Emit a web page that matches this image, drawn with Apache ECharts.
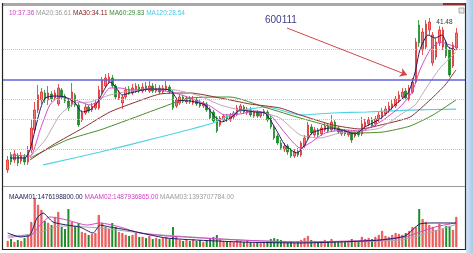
<!DOCTYPE html>
<html><head><meta charset="utf-8">
<script src="https://cdn.jsdelivr.net/npm/echarts/dist/echarts.min.js"></script>
<style>html,body{margin:0;padding:0;background:#fff;}#c{width:473px;height:253px;}</style>
</head><body><div id="c"></div>
<script>
// ---- daily prices ----
const opens=[19.89,22.02,21.31,21.87,21.16,21.73,21.02,22.73,25.57,28.41,
29.83,30.82,29.83,30.68,30.11,29.26,31.25,30.39,29.68,29.12,
30.54,29.12,26.99,27.98,28.83,28.41,28.69,28.69,30.96,31.81,
32.38,32.95,31.81,30.11,29.40,30.25,31.39,30.82,31.10,31.67,
31.10,31.81,31.10,31.81,31.10,31.53,30.96,31.39,31.67,30.96,
28.97,29.40,30.25,29.54,30.11,29.40,29.83,29.40,28.97,29.26,
28.55,28.12,27.27,26.28,26.99,27.55,26.99,27.41,27.84,28.26,
28.83,27.98,28.41,27.55,28.12,27.55,27.84,28.12,27.27,25.99,
24.71,23.72,22.73,23.29,22.73,21.87,22.58,22.02,23.29,24.43,
25.99,24.86,25.57,25.00,25.57,26.13,25.57,26.70,25.85,25.00,
25.42,24.86,25.28,24.71,25.28,25.00,26.13,26.42,26.99,26.42,
26.99,27.41,27.84,28.26,28.69,28.97,29.68,30.25,31.10,29.97,
30.96,32.38,40.48,36.93,37.35,39.77,35.08,35.93,37.92,37.35,
38.06,36.93,34.66,37.21];
const closes=[21.31,21.02,22.16,20.88,21.87,21.02,22.73,25.85,28.41,30.54,
30.96,29.83,30.82,29.97,30.82,31.53,30.25,29.68,28.69,30.96,
29.12,26.28,27.98,28.83,28.26,28.97,29.40,31.25,32.67,32.95,
33.09,31.81,30.25,30.96,30.25,31.25,30.82,31.53,31.81,31.10,
31.67,31.25,31.81,31.10,31.53,30.96,31.53,31.81,30.96,28.69,
29.83,30.25,29.68,30.11,29.54,29.97,29.26,28.97,29.40,28.41,
27.27,26.84,25.42,27.27,27.55,26.99,27.55,27.98,28.69,28.97,
28.12,28.55,27.70,28.12,27.55,27.98,28.26,26.99,25.99,24.43,
23.72,23.01,23.29,22.44,21.87,22.44,22.02,23.72,24.43,26.28,
25.14,25.57,24.86,25.85,26.13,25.42,26.70,25.71,25.28,25.42,
25.00,25.28,24.15,25.28,24.86,26.42,26.70,26.99,26.13,27.13,
27.70,28.12,28.55,28.97,29.26,29.97,30.54,30.96,30.11,31.53,
32.38,38.06,37.92,39.48,40.62,40.90,39.06,38.06,39.77,39.77,
36.08,33.38,37.64,39.34];
const lows=[19.46,20.60,20.88,20.45,20.74,20.60,20.60,22.30,25.14,27.98,
29.26,29.40,29.12,29.54,29.83,28.97,29.83,29.40,28.26,28.83,
28.83,25.99,26.70,27.70,27.98,28.12,28.41,28.41,30.68,31.53,
32.10,31.53,29.97,29.83,28.55,29.97,30.54,30.54,30.82,30.82,
30.82,30.96,30.82,30.82,30.82,30.68,30.68,31.10,30.68,28.41,
28.69,29.12,29.40,29.26,29.26,29.12,28.97,28.69,28.69,28.12,
26.99,26.56,25.14,25.99,26.70,26.70,26.70,27.13,27.55,27.98,
27.84,27.70,27.41,27.27,27.27,27.27,27.55,26.70,25.71,24.15,
23.44,22.73,22.44,22.02,21.59,21.59,21.73,21.73,23.01,24.15,
24.86,24.57,24.57,24.71,25.28,25.14,25.28,25.42,25.00,24.71,
24.71,24.57,23.72,24.43,24.57,24.71,25.85,26.13,25.85,26.13,
26.70,27.13,27.55,27.98,28.41,28.69,29.40,29.97,29.83,29.68,
30.68,32.10,37.35,36.22,36.93,39.06,34.66,35.51,37.50,36.93,
35.79,33.09,34.37,36.93];
const highs=[21.87,22.44,22.73,22.30,22.44,22.16,23.29,26.99,29.54,31.96,
31.53,31.25,31.81,31.10,31.25,32.10,31.53,30.68,29.97,32.24,
30.82,29.40,28.41,29.26,29.12,29.40,29.83,31.81,33.09,33.52,
33.66,33.38,32.10,31.25,30.54,31.67,31.81,32.10,32.24,32.10,
32.24,32.38,32.52,32.24,32.10,31.96,31.96,32.52,31.96,31.25,
30.11,30.54,30.54,30.39,30.39,30.39,30.11,29.83,29.68,29.54,
28.83,28.41,27.55,27.55,27.84,27.84,27.98,28.26,29.12,29.26,
29.12,28.83,28.83,28.41,28.41,28.26,28.55,28.41,27.55,26.28,
25.00,24.15,23.72,23.58,23.01,22.87,23.01,24.00,24.86,26.70,
26.42,25.99,25.85,26.28,26.70,26.42,27.70,26.99,26.13,25.71,
25.71,25.57,25.57,25.57,25.57,27.41,27.13,27.41,27.41,27.55,
28.12,28.69,28.97,29.54,29.83,30.39,31.10,31.53,31.53,31.96,
32.95,38.63,41.19,40.05,41.19,41.48,39.48,38.63,40.34,40.20,
38.35,37.35,38.06,40.05];
// volume, 1e8 shares
const volumes=[3.7,4.9,3.1,4.3,3.7,5.5,6.8,15.4,30.2,25.9,
22.8,16.0,14.8,13.5,18.5,21.5,12.3,11.1,23.4,15.4,
12.3,14.8,9.2,8.6,7.4,8.0,8.6,19.7,14.8,12.3,
11.1,14.8,12.3,9.2,8.6,7.4,6.8,7.4,8.6,6.2,
6.2,5.5,6.8,4.9,5.5,4.9,5.5,6.2,4.9,12.3,
6.2,4.3,3.7,4.3,3.7,4.9,3.7,4.3,3.1,4.3,
5.5,6.2,7.4,4.9,3.7,3.1,3.7,3.1,4.3,3.7,
3.1,3.7,3.1,2.5,3.1,2.5,3.1,3.7,4.9,5.5,
4.9,4.3,3.7,3.1,3.7,3.1,3.7,4.3,5.5,6.8,
4.3,3.7,3.1,3.7,4.3,3.1,4.9,3.7,3.1,3.7,
3.1,3.7,4.9,3.7,3.1,6.2,4.9,5.5,4.9,6.2,
7.4,9.9,6.8,6.2,7.4,8.6,8.0,7.4,8.6,9.9,
12.3,12.3,23.4,17.2,15.4,13.5,12.3,10.5,14.2,11.1,
12.9,12.9,10.5,18.5];
// moving average lines: [day index, value]
const ma5=[[0.7,21.59],[5.1,21.59],[6.6,22.73],[8.1,25.57],[9.6,28.41],[11.1,30.11],[14,30.39],[17,30.25],[20,29.4],[22,28.12],[24.4,28.41],[26.5,29.4],[28.9,31.53],[30.3,32.38],[31.8,31.81],[33.9,30.54],[36.3,30.82],[42.2,31.39],[48.1,31.25],[50.5,29.83],[54.1,29.68],[58.5,29.12],[61.5,27.41],[63.5,26.7],[66.5,27.41],[68.9,28.41],[73.3,28.12],[76.3,27.98],[79.3,25.85],[82.2,23.44],[85.8,22.3],[88.1,23.44],[90.2,25.14],[95.6,25.85],[100,25.42],[103,25.0],[105.9,25.99],[110.4,27.13],[114.8,29.12],[118.7,30.82],[120.8,33.8],[122.2,36.93],[124.6,39.06],[126.7,38.63],[128.8,39.06],[130.6,37.35],[132.9,36.93]];
const ma10=[[0.7,22.02],[6.6,21.87],[9.6,25.57],[12.5,29.12],[15.5,30.25],[20,29.83],[24.4,29.12],[27.4,29.83],[30.3,31.53],[33.3,31.53],[36.3,31.25],[42.2,31.39],[49.6,30.82],[54.1,30.11],[60,28.97],[64.4,27.7],[68.9,27.84],[73.3,28.26],[77.8,27.7],[82.2,25.14],[86.7,23.01],[89.6,23.72],[94.1,25.14],[100,25.57],[104.5,25.42],[110.4,26.7],[116.3,28.83],[119.9,30.96],[122.2,34.09],[125.2,36.93],[128.2,38.06],[131.1,37.64],[132.9,37.36]];
const ma20=[[6.6,21.73],[11.1,24.15],[15.5,27.7],[20,29.4],[24.4,29.54],[30.3,30.54],[36.3,31.1],[42.2,31.39],[49.6,31.25],[57,30.39],[63,29.12],[68.9,28.41],[74.8,28.12],[80.7,27.27],[86.7,24.86],[92.6,24.43],[98.5,25.14],[104.5,25.42],[110.4,25.85],[116.3,27.7],[120.8,29.12],[123.7,31.25],[128.2,34.37],[132.9,36.61]];
const ma30=[[6.6,21.31],[13.4,23.44],[22.3,25.85],[30.3,28.12],[37.2,29.4],[45.2,30.68],[54.1,30.82],[63,30.11],[71.8,29.26],[80.7,28.69],[86.7,27.7],[96.4,26.28],[104.5,25.71],[111.9,26.42],[119.3,27.41],[125.2,29.83],[129.7,31.96],[132.9,34.11]];
const ma60=[[6.6,21.59],[17.6,24.15],[27.4,25.57],[37.2,27.27],[45.2,28.69],[54.1,30.11],[65.9,30.25],[76.9,28.69],[86.7,27.27],[96.4,25.99],[103.6,25.14],[111.3,25.28],[119.3,26.13],[126.1,27.7],[132.9,29.83]];
const ma120=[[10.5,20.6],[27.4,22.44],[45.2,24.57],[60.9,26.56],[68.9,28.26],[76.9,28.83],[86.7,27.7],[96.4,27.98],[106.5,28.12],[121.4,28.41],[132.9,28.54]];
const vma1=[[0,8.6],[3.7,6.2],[6.6,7.4],[8.7,17.9],[10.5,20.9],[13.4,15.4],[17.6,13.5],[21.4,12.3],[25.3,8.6],[27.4,13.5],[30.3,12.3],[35.4,10.5],[47.2,5.5],[68.9,3.1],[86.7,2.5],[98.5,3.1],[110.4,4.3],[117.8,6.8],[122.2,14.2],[126.7,14.8],[132.9,14.76]];
const vma2=[[0,6.8],[6.6,6.8],[9.6,13.5],[12.5,18.5],[17.6,16.6],[23.5,13.5],[27.4,14.8],[33.3,12.3],[39.2,8.6],[47.2,6.8],[68.9,4.3],[86.7,3.1],[110.4,4.3],[117.8,6.2],[122.2,9.2],[126.7,12.3],[132.9,14.88]];
const vma3=[[0,5.5],[9.6,9.2],[15.5,12.9],[27.4,11.7],[42.2,8.0],[68.9,4.3],[86.7,3.1],[116.3,4.3],[132.9,13.94]];
const gridLevels=[37.07,29.97,27.13,22.87];
const resistance=32.67;
const arrowFrom=[82.8,40.05], arrowTo=[118.4,33.38];
const peak=[125,41.48];
const header=['10:37.36','MA20:36.61','MA30:34.11','MA60:29.83','MA120:28.54'];
const volHeader=['MAAM01:1476198800.00','MAAM02:1487936865.00','MAAM03:1393707784.00'];
const stockCode='600111';

const N=closes.length;
const days=closes.map((_,i)=>String(i+1));
const candleData=closes.map((c,i)=>[opens[i],c,lows[i],highs[i]]);
const UP='#f07a7a',UPB='#e02828',DN='#1e8c28';
const volData=volumes.map((v,i)=>({value:v,itemStyle:closes[i]>=opens[i]?{color:UP,borderColor:UPB,borderWidth:0.6}:{color:DN}}));
const pxPerDay=452/N;
const vxMin=-0.5-3/pxPerDay, vxMax=N-0.5+7/pxPerDay;
const PMIN=18.32,PMAX=42.89,VMAX=31.4;
function line(name,data,color,xi,yi,w){return {name,type:'line',data,xAxisIndex:xi,yAxisIndex:yi,showSymbol:false,symbol:'none',smooth:0.2,z:4,lineStyle:{color,width:w||1},silent:true};}
const R=(c)=>({color:c,fontSize:6.5,fontWeight:'normal',fontFamily:'Liberation Sans'});
const chart=echarts.init(document.getElementById('c'));
chart.setOption({
 animation:false,backgroundColor:'#ffffff',
 title:[
  {left:4,top:5,text:`{a|${header[0]}} {b|${header[1]}} {c|${header[2]}} {d|${header[3]}} {e|${header[4]}}`,
   textStyle:{fontSize:6.5,fontWeight:'normal',fontFamily:'Liberation Sans',rich:{a:R('#d040c8'),b:R('#9a9a9a'),c:R('#8a2020'),d:R('#3c8c3c'),e:R('#48c8e0')}}},
  {left:4,top:189,text:`{a|${volHeader[0]}} {b|${volHeader[1]}} {c|${volHeader[2]}}`,
   textStyle:{fontSize:6.5,fontWeight:'normal',fontFamily:'Liberation Sans',rich:{a:R('#20205a'),b:R('#d040c8'),c:R('#9a9a9a')}}}
 ],
 grid:[{left:6,top:8,width:452,height:173},{left:3,top:8,width:462,height:173},
       {left:6,top:196,width:452,height:51},{left:3,top:196,width:462,height:51}],
 xAxis:[
  {type:'category',gridIndex:0,data:days,show:false},
  {type:'value',gridIndex:1,min:vxMin,max:vxMax,show:false},
  {type:'category',gridIndex:2,data:days,show:false},
  {type:'value',gridIndex:3,min:vxMin,max:vxMax,show:false}
 ],
 yAxis:[
  {type:'value',gridIndex:0,min:PMIN,max:PMAX,show:false},
  {type:'value',gridIndex:1,min:PMIN,max:PMAX,show:false},
  {type:'value',gridIndex:2,min:0,max:VMAX,show:false},
  {type:'value',gridIndex:3,min:0,max:VMAX,show:false}
 ],
 series:[
  {type:'line',xAxisIndex:1,yAxisIndex:1,data:[],z:1,silent:true,
   markLine:{silent:true,symbol:'none',label:{show:false},animation:false,
     data:gridLevels.map(v=>({yAxis:v,lineStyle:{color:'#c4c4c4',type:'dotted',width:1}}))}},
  {type:'candlestick',xAxisIndex:0,yAxisIndex:0,data:candleData,barWidth:2,z:2,silent:true,
   itemStyle:{color:UP,color0:DN,borderColor:UPB,borderColor0:DN,borderWidth:0.8}},
  line('MA120',ma120,'#4cd2e6',1,1,1.2),
  line('MA60',ma60,'#4a8a2a',1,1),
  line('MA30',ma30,'#8c3030',1,1),
  line('MA20',ma20,'#c0a8b8',1,1),
  line('MA10',ma10,'#d848c8',1,1),
  line('MA5',ma5,'#1c1c66',1,1),
  {type:'line',xAxisIndex:1,yAxisIndex:1,data:[],z:5,silent:true,
   markLine:{silent:true,label:{show:false},animation:false,symbol:['none','none'],
     data:[{yAxis:resistance,lineStyle:{color:'#6262dc',type:'solid',width:1.5}},
           [{coord:arrowFrom,symbol:'none'},{coord:arrowTo,symbol:'arrow',symbolSize:7,lineStyle:{color:'#d04848',type:'solid',width:1}}]]},
   markPoint:{silent:true,symbol:'circle',symbolSize:0,
     data:[{coord:peak,label:{show:true,position:'right',offset:[2,4],formatter:String(peak[1]),color:'#333',fontSize:6.5,fontFamily:'Liberation Sans'}}]}},
  {type:'bar',xAxisIndex:2,yAxisIndex:2,data:volData,barWidth:2,z:2,silent:true},
  line('MAAM03',vma3,'#a8a8a8',3,3),
  line('MAAM02',vma2,'#d048c8',3,3),
  line('MAAM01',vma1,'#1c1c66',3,3)
 ],
 graphic:[
  {type:'rect',shape:{x:466,y:0,width:7,height:253},style:{fill:new echarts.graphic.LinearGradient(0,0,1,0,[{offset:0,color:'#d6e6f6'},{offset:1,color:'#a9c8e8'}])},z:10},
  {type:'rect',shape:{x:3,y:3,width:463,height:3},style:{fill:'#a8a8a8'},z:10},
  {type:'rect',shape:{x:443,y:3,width:22,height:2},style:{fill:'#8a3030'},z:11},
  {type:'rect',shape:{x:459,y:8,width:5,height:5},style:{fill:'#e8e8e8',stroke:'#999',lineWidth:0.8},z:11},
  {type:'line',shape:{x1:2.5,y1:3,x2:2.5,y2:250},style:{stroke:'#222',lineWidth:1.2},z:10},
  {type:'line',shape:{x1:465.5,y1:3,x2:465.5,y2:250},style:{stroke:'#333',lineWidth:1.2},z:10},
  {type:'line',shape:{x1:2,y1:249.5,x2:466,y2:249.5},style:{stroke:'#222',lineWidth:1.2},z:10},
  {type:'line',shape:{x1:3,y1:186.5,x2:465,y2:186.5},style:{stroke:'#9a9a9a',lineWidth:1},z:10},
  {type:'text',left:265,top:15,style:{text:stockCode,fill:'#40408c',font:'10px "Liberation Sans"'},z:12}
 ]
});
</script></body></html>
